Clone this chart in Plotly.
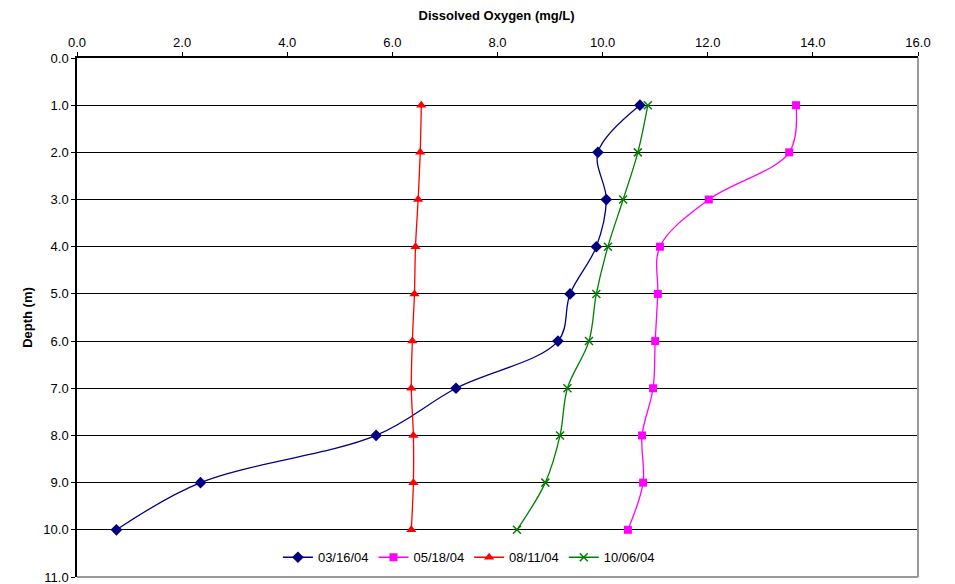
import plotly.graph_objects as go

depth = [1, 2, 3, 4, 5, 6, 7, 8, 9, 10]
do_0316 = [10.71, 9.91, 10.07, 9.88, 9.38, 9.15, 7.21, 5.69, 2.35, 0.75]
do_0518 = [13.68, 13.55, 12.02, 11.09, 11.05, 11.00, 10.96, 10.75, 10.77, 10.48]
do_0811 = [6.55, 6.53, 6.49, 6.44, 6.42, 6.38, 6.36, 6.40, 6.40, 6.36]
do_1006 = [10.86, 10.67, 10.39, 10.10, 9.88, 9.74, 9.33, 9.19, 8.91, 8.37]
series_names = ["03/16/04", "05/18/04", "08/11/04", "10/06/04"]
x_ticks = [0, 2, 4, 6, 8, 10, 12, 14, 16]
y_ticks = list(range(0, 12))

FONT = "Liberation Sans, Arial, sans-serif"

fig = go.Figure()
styles = [
    (do_0316, "#000080", dict(symbol="diamond", size=9, color="#000080")),
    (do_0518, "#FF00FF", dict(symbol="square", size=8, color="#FF00FF")),
    (do_0811, "#FF0000", dict(symbol="triangle-up", size=9, color="#FF0000")),
    (do_1006, "#008000", dict(symbol="x-thin", size=8, color="#008000",
                              line=dict(color="#008000", width=1.5))),
]
for name, (vals, col, mk) in zip(series_names, styles):
    fig.add_trace(go.Scatter(
        x=vals, y=depth, name=name, mode="lines+markers",
        line=dict(color=col, width=1.3, shape="spline", smoothing=1.0),
        marker=mk,
    ))

fig.update_layout(
    width=955, height=584,
    margin=dict(l=76.5, r=37, t=58, b=7, autoexpand=False),
    paper_bgcolor="white", plot_bgcolor="white",
    font=dict(family=FONT, size=13, color="black"),
    showlegend=True,
    legend=dict(orientation="h", x=0.466, xanchor="center", y=0.038, yanchor="middle",
                bgcolor="rgba(255,255,255,0)", font=dict(size=13), itemwidth=30,
                tracegroupgap=0),
    title=dict(text="<b>Dissolved Oxygen (mg/L)</b>", x=0.52, xanchor="center",
               yref="container", y=0.974, yanchor="middle", font=dict(size=13)),
    shapes=[
        dict(type="line", xref="paper", yref="paper", x0=1, x1=1, y0=0, y1=1,
             line=dict(color="#999999", width=2)),
        dict(type="line", xref="paper", yref="paper", x0=0, x1=1, y0=0, y1=0,
             line=dict(color="#999999", width=2)),
    ],
)
fig.update_xaxes(
    side="top", range=[0, 16], tickvals=x_ticks, tickformat=".1f", automargin=False,
    showgrid=False, zeroline=False, showline=True, linecolor="black", linewidth=1.5,
    ticks="outside", ticklen=4, tickcolor="black", ticklabeloverflow="allow",
)
fig.update_yaxes(
    range=[11, 0], tickvals=y_ticks, tickformat=".1f", automargin=False,
    showgrid=True, gridcolor="black", gridwidth=1, zeroline=False,
    showline=True, linecolor="black", linewidth=1.5,
    ticks="outside", ticklen=4, tickcolor="black", ticklabeloverflow="allow",
    title=dict(text="<b>Depth (m)</b>", font=dict(size=13), standoff=8),
)

fig.write_html("out.html", config={"displayModeBar": False},
               post_script="document.body.style.margin='0px';document.body.style.overflow='hidden';")
